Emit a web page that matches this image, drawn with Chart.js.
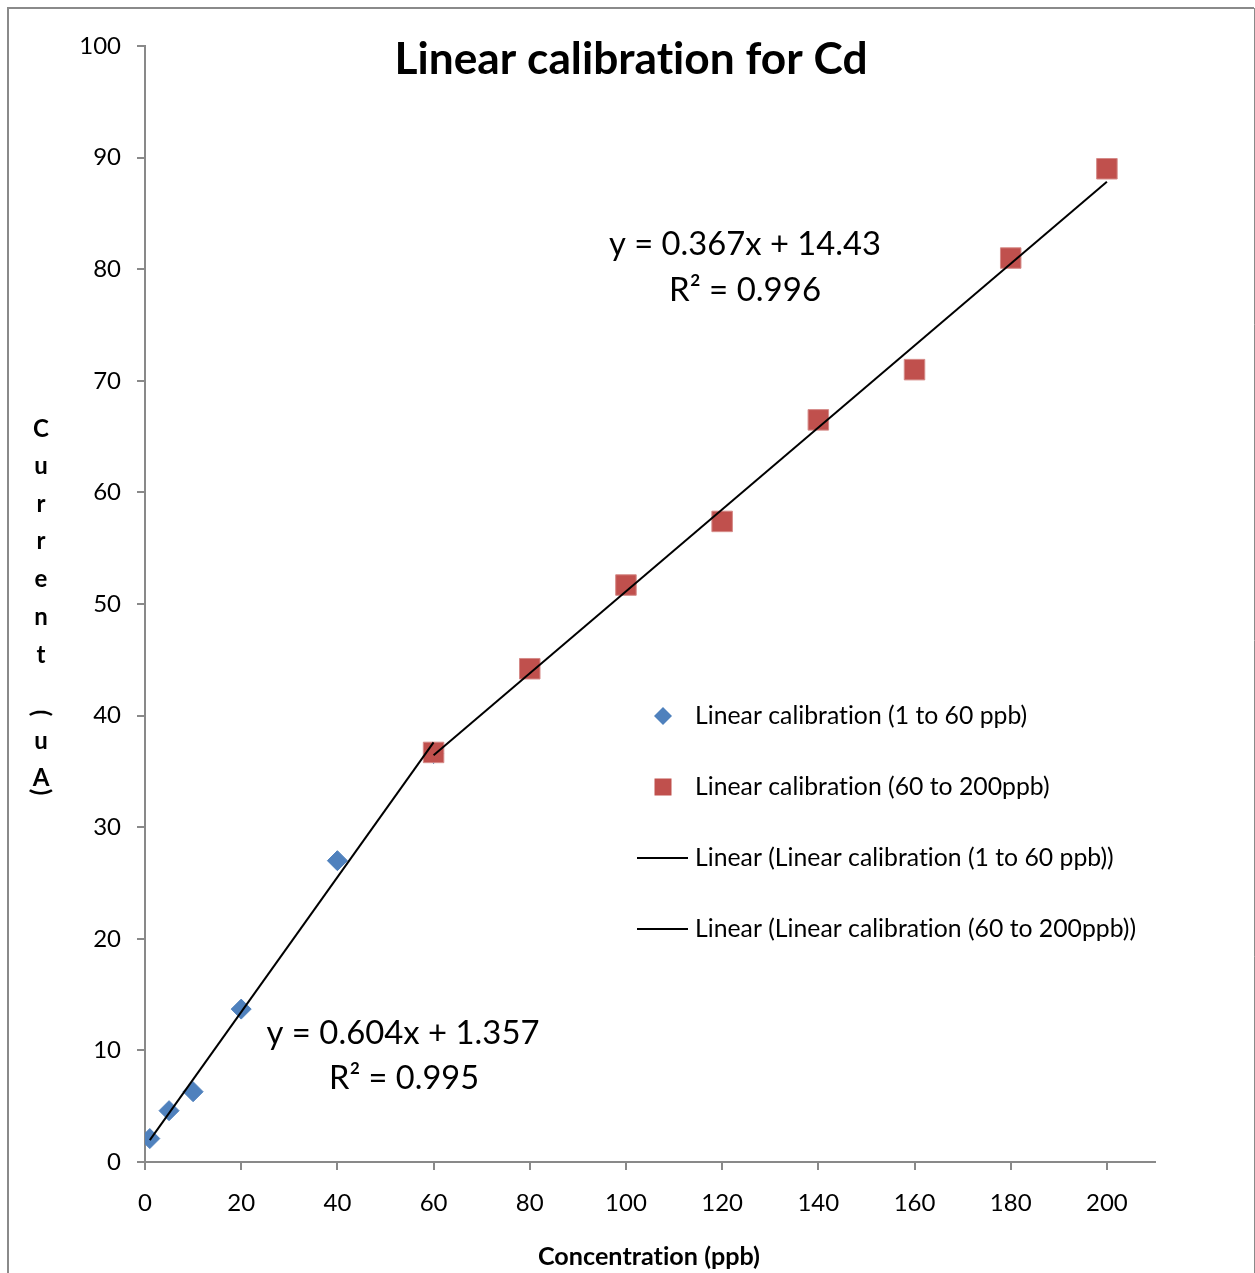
<!DOCTYPE html>
<html>
<head>
<meta charset="utf-8">
<title>Linear calibration for Cd</title>
<script src="https://cdn.jsdelivr.net/npm/chart.js@4.4.1/dist/chart.umd.min.js"></script>
<style>
  html, body { margin: 0; padding: 0; background: #fff; }
  #wrap { width: 1255px; height: 1273px; position: relative; }
</style>
</head>
<body>
<div id="wrap"><canvas id="c" width="1255" height="1273"></canvas></div>
<script>
// Calibration points (concentration in ppb, current in uA)
const lowConc = [1, 5, 10, 20, 40, 60];
const lowCurrent = [2.1, 4.6, 6.3, 13.7, 27.0, 36.6];
const highConc = [60, 80, 100, 120, 140, 160, 180, 200];
const highCurrent = [36.7, 44.2, 51.7, 57.4, 66.5, 71.0, 81.0, 89.0];

// Linear fits reported for each range
const fitSlope = [0.604, 0.367];
const fitIntercept = [1.357, 14.43];
const fitFrom = [1, 60];
const fitTo = [60, 200];
const fitEquation = ['y = 0.604x + 1.357', 'y = 0.367x + 14.43'];
const fitR2 = ['R² = 0.995', 'R² = 0.996'];

// Axis ticks
const xTicks = [0, 20, 40, 60, 80, 100, 120, 140, 160, 180, 200];
const yTicks = [0, 10, 20, 30, 40, 50, 60, 70, 80, 90, 100];

const seriesNames = [
  'Linear calibration (1 to 60 ppb)',
  'Linear calibration (60 to 200ppb)',
  'Linear (Linear calibration (1 to 60 ppb))',
  'Linear (Linear calibration (60 to 200ppb))'
];

const FONT = 'Lato, "Open Sans", "DejaVu Sans", sans-serif';
const AXIS_GREY = '#898989';
const BLUE = '#4F81BD';
const RED = '#C0504D';

const toPoints = (xs, ys) => xs.map((x, i) => ({ x: x, y: ys[i] }));
const fitLine = i => [
  { x: fitFrom[i], y: fitSlope[i] * fitFrom[i] + fitIntercept[i] },
  { x: fitTo[i], y: fitSlope[i] * fitTo[i] + fitIntercept[i] }
];

// font size that makes a string span a given width
function fitSize(ctx, text, weight, width) {
  ctx.font = weight + ' 100px ' + FONT;
  return 100 * width / ctx.measureText(text).width;
}

function centerText(ctx, text, cx, cy, weight, width) {
  const s = fitSize(ctx, text, weight, width);
  ctx.font = weight + ' ' + s.toFixed(2) + 'px ' + FONT;
  ctx.textAlign = 'center';
  ctx.textBaseline = 'middle';
  ctx.fillText(text, cx, cy);
}

const frame = {
  id: 'frame',
  beforeDraw(chart) {
    const ctx = chart.ctx;
    ctx.save();
    ctx.fillStyle = '#fff';
    ctx.fillRect(0, 0, chart.width, chart.height);
    ctx.strokeStyle = '#8a8a8a';
    ctx.lineWidth = 2;
    ctx.beginPath();
    ctx.moveTo(8, chart.height);
    ctx.lineTo(8, 8);
    ctx.lineTo(1254, 8);
    ctx.stroke();
    ctx.lineWidth = 1;
    ctx.beginPath();
    ctx.moveTo(1254.5, 8);
    ctx.lineTo(1254.5, chart.height);
    ctx.stroke();
    ctx.restore();
  }
};

const texts = {
  id: 'texts',
  afterDraw(chart) {
    const ctx = chart.ctx;
    ctx.save();
    // keep "ti" and similar pairs as separate glyphs
    ctx.letterSpacing = '0.01px';
    ctx.fillStyle = '#000';

    // title
    centerText(ctx, 'Linear calibration for Cd', 631, 60, 'bold', 473);

    // axis title (x)
    centerText(ctx, 'Concentration (ppb)', 649, 1257, 'bold', 222);

    // stacked axis title (y)
    const ySize = 24;
    ctx.font = 'bold ' + ySize + 'px ' + FONT;
    ctx.textAlign = 'center';
    ctx.textBaseline = 'middle';
    const stack = [['C', 429], ['u', 466], ['r', 504], ['r', 541], ['e', 579],
                   ['n', 617], ['t', 655], ['(', 713], ['u', 741], ['A', 778], [')', 792]];
    stack.forEach(([ch, y]) => {
      if (ch === '(' || ch === ')') {
        ctx.save();
        ctx.translate(41, y);
        ctx.rotate(Math.PI / 2);
        ctx.fillText(ch, 0, 0);
        ctx.restore();
      } else {
        ctx.fillText(ch, 41, y);
      }
    });

    // fit equations
    centerText(ctx, fitEquation[1], 745, 244, 'normal', 272);
    centerText(ctx, fitR2[1], 745, 290, 'normal', 152);
    centerText(ctx, fitEquation[0], 403, 1033, 'normal', 273);
    centerText(ctx, fitR2[0], 404, 1079, 'normal', 150);

    // legend
    const lSize = fitSize(ctx, seriesNames[0], 'normal', 332);
    ctx.font = lSize.toFixed(2) + 'px ' + FONT;
    ctx.textAlign = 'left';
    ctx.textBaseline = 'middle';
    const rows = [716, 787, 858, 929];
    rows.forEach((y, i) => ctx.fillText(seriesNames[i], 695, y));

    ctx.fillStyle = BLUE;
    ctx.beginPath();
    ctx.moveTo(663, 716 - 9);
    ctx.lineTo(672, 716);
    ctx.lineTo(663, 716 + 9);
    ctx.lineTo(654, 716);
    ctx.closePath();
    ctx.fill();

    ctx.fillStyle = RED;
    ctx.fillRect(654.5, 787 - 8.5, 17, 17);

    ctx.strokeStyle = '#000';
    ctx.lineWidth = 2;
    [858, 929].forEach(y => {
      ctx.beginPath();
      ctx.moveTo(637, y);
      ctx.lineTo(688, y);
      ctx.stroke();
    });
    ctx.restore();
  }
};

const tickFont = { family: FONT, size: 24 };

new Chart(document.getElementById('c'), {
  type: 'scatter',
  data: {
    datasets: [
      {
        label: seriesNames[0],
        data: toPoints(lowConc, lowCurrent),
        pointStyle: 'rectRot',
        pointRadius: 10,
        backgroundColor: BLUE,
        borderColor: BLUE,
        borderWidth: 1,
        order: 2
      },
      {
        label: seriesNames[1],
        data: toPoints(highConc, highCurrent),
        pointStyle: 'rect',
        pointRadius: 14.5,
        backgroundColor: RED,
        borderColor: '#D58A88',
        borderWidth: 1,
        order: 1
      },
      {
        label: seriesNames[2],
        data: fitLine(0),
        showLine: true,
        pointRadius: 0,
        borderColor: '#000',
        borderWidth: 2,
        order: 0
      },
      {
        label: seriesNames[3],
        data: fitLine(1),
        showLine: true,
        pointRadius: 0,
        borderColor: '#000',
        borderWidth: 2,
        order: 0
      }
    ]
  },
  options: {
    responsive: false,
    animation: false,
    events: [],
    layout: { padding: { left: 0, top: 46, right: 100, bottom: 0 } },
    plugins: {
      legend: { display: false },
      title: { display: false },
      tooltip: { enabled: false }
    },
    scales: {
      x: {
        type: 'linear',
        position: 'bottom',
        min: 0,
        max: 210,
        afterBuildTicks: s => { s.ticks = xTicks.map(v => ({ value: v })); },
        afterFit: s => { s.height = 111; },
        grid: { drawOnChartArea: false, drawTicks: true, tickLength: 8, color: AXIS_GREY, lineWidth: 2 },
        border: { display: true, color: AXIS_GREY, width: 2 },
        ticks: { font: tickFont, color: '#000', padding: 19, maxRotation: 0 }
      },
      y: {
        type: 'linear',
        position: 'left',
        min: 0,
        max: 100,
        afterBuildTicks: s => { s.ticks = yTicks.map(v => ({ value: v })); },
        afterFit: s => { s.width = 145; },
        grid: { drawOnChartArea: false, drawTicks: true, tickLength: 8, color: AXIS_GREY, lineWidth: 2 },
        border: { display: true, color: AXIS_GREY, width: 2 },
        ticks: { font: tickFont, color: '#000', padding: 16 }
      }
    }
  },
  plugins: [frame, texts]
});
</script>
</body>
</html>
